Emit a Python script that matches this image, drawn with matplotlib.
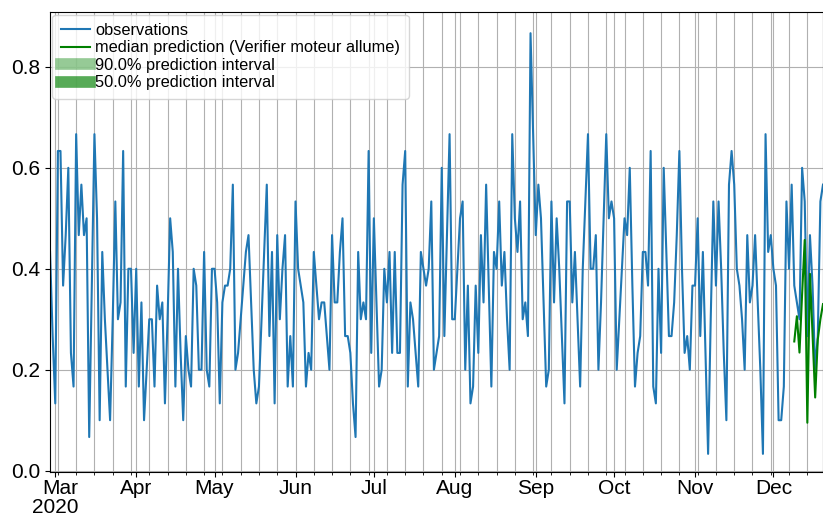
import numpy as np
import pandas as pd
import matplotlib
matplotlib.use("Agg")
import matplotlib.pyplot as plt
import matplotlib.dates as mdates
from matplotlib.ticker import FuncFormatter

plt.rcParams['font.family'] = ['Liberation Sans', 'DejaVu Sans']


### Daily observations (share out of 30), 2020-02-28 .. 2020-12-20
obs_start = "2020-02-28"
obs_counts = [
    13, 8, 4, 19, 19, 11, 14, 18, 7, 5,
    20, 14, 17, 14, 15, 2, 11, 20, 15, 3,
    13, 9, 6, 3, 9, 16, 9, 10, 19, 5,
    12, 12, 7, 12, 5, 10, 3, 6, 9, 9,
    5, 11, 9, 10, 4, 9, 15, 13, 5, 12,
    7, 3, 8, 6, 5, 12, 11, 6, 6, 13,
    6, 5, 12, 12, 10, 4, 10, 11, 11, 12,
    17, 6, 7, 9, 11, 13, 14, 10, 6, 4,
    5, 9, 13, 17, 8, 13, 4, 14, 9, 12,
    14, 5, 8, 5, 16, 12, 11, 10, 5, 7,
    6, 13, 11, 9, 10, 10, 8, 6, 14, 10,
    10, 13, 15, 8, 8, 7, 4, 2, 13, 9,
    10, 9, 19, 7, 15, 10, 5, 6, 12, 10,
    13, 7, 13, 7, 7, 17, 19, 5, 10, 9,
    7, 5, 13, 12, 11, 12, 16, 6, 7, 8,
    18, 8, 14, 20, 9, 9, 12, 15, 16, 6,
    11, 4, 5, 11, 7, 14, 10, 17, 11, 5,
    13, 12, 16, 11, 13, 9, 6, 20, 15, 13,
    16, 9, 10, 8, 26, 20, 14, 17, 15, 10,
    5, 6, 16, 10, 15, 12, 8, 4, 16, 16,
    10, 13, 9, 5, 12, 16, 20, 12, 12, 14,
    6, 10, 15, 20, 15, 16, 15, 6, 9, 12,
    15, 14, 18, 11, 5, 7, 8, 13, 13, 11,
    19, 5, 4, 12, 7, 18, 13, 8, 8, 10,
    14, 19, 12, 7, 8, 6, 11, 11, 15, 8,
    13, 7, 1, 9, 16, 11, 16, 12, 7, 3,
    17, 19, 17, 12, 11, 9, 6, 14, 10, 11,
    14, 10, 6, 1, 20, 13, 14, 12, 11, 3,
    3, 5, 16, 12, 17, 11, 10, 9, 18, 16,
    8, 14, 11, 6, 8, 16, 17,
]

### Forecast median over the last 12 days
pred_start = "2020-12-09"
pred_median = [0.256, 0.306, 0.234, 0.35, 0.457, 0.095,
               0.39, 0.27, 0.145, 0.26, 0.30, 0.33]

interval_labels = ["90.0% prediction interval", "50.0% prediction interval"]
interval_alphas = [0.41, 0.66]

obs = np.array(obs_counts) / 30.0
dates = pd.date_range(obs_start, periods=len(obs), freq="D")
pred_dates = pd.date_range(pred_start, periods=len(pred_median), freq="D")


fig = plt.figure(figsize=(8.23, 5.18), dpi=100)
ax = fig.add_axes([0.0608, 0.0884, 0.9392, 0.8878])

ax.plot(dates, obs, color="#1f77b4", linewidth=1.5, label="observations")
ax.plot(pred_dates, pred_median, color="g", linewidth=1.5,
        label="median prediction (Verifier moteur allume)")

### single-point lines just to get thick legend handles for the intervals
for lab, a in zip(interval_labels, interval_alphas):
    ax.plot(pred_dates[:1], pred_median[:1], color="g", alpha=a,
            linewidth=8.4, label=lab)

ax.set_xlim(dates[0], dates[-1])
ax.set_ylim(-0.003, 0.908)
ax.set_yticks([0.0, 0.2, 0.4, 0.6, 0.8])


### month ticks, weekly minor ticks (Mondays)
def month_label(x, pos):
    d = mdates.num2date(x)
    if d.month == 1 or (d.date() - dates[0].date()).days < 31:
        return d.strftime("%b\n%Y")
    return d.strftime("%b")


ax.xaxis.set_major_locator(mdates.MonthLocator())
ax.xaxis.set_minor_locator(mdates.WeekdayLocator(byweekday=mdates.MO))
ax.xaxis.set_major_formatter(FuncFormatter(month_label))
ax.xaxis.set_minor_formatter(FuncFormatter(lambda x, pos: ""))
ax.tick_params(axis="both", which="major", labelsize=15)
ax.tick_params(axis="x", which="major", pad=1.5)

ax.grid(which="both", color="#b0b0b0", linewidth=0.8)
ax.set_axisbelow(True)

ax.legend(loc="upper left", fontsize=11.8, handlelength=1.77,
          handletextpad=0.35, labelspacing=0.15, borderaxespad=0.15,
          borderpad=0.5)

fig.canvas.draw()
for lab in ax.get_xticklabels():
    lab.set_multialignment("right")
    lab.set_linespacing(1.0)

fig.savefig("out.png", dpi=100)
